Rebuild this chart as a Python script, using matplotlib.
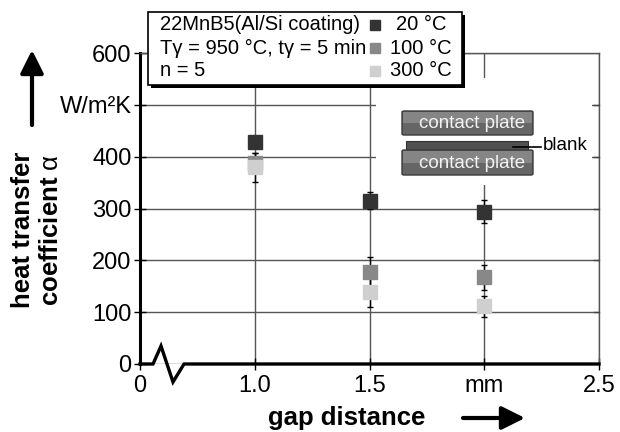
import matplotlib
matplotlib.use("Agg")
import matplotlib.pyplot as plt
from matplotlib.patches import Rectangle, FancyBboxPatch
from matplotlib.lines import Line2D
from matplotlib.transforms import blended_transform_factory

plt.rcParams['font.family'] = ['Liberation Sans', 'DejaVu Sans']
plt.rcParams['mathtext.fontset'] = 'custom'
plt.rcParams['mathtext.rm'] = 'Liberation Sans'
plt.rcParams['mathtext.it'] = 'Liberation Sans:italic'

# ---- data ----
gap = [1.0, 1.5, 2.0]
series_labels = ["20 °C", "100 °C", "300 °C"]
alpha_20 = [428, 315, 294]
err_20 = [12, 16, 22]
alpha_100 = [388, 177, 167]
err_100 = [20, 29, 24]
alpha_300 = [380, 138, 111]
err_300 = [28, 28, 20]
colors = ["#333333", "#888888", "#cfcfcf"]

xticks = [0.5, 1.0, 1.5, 2.0, 2.5]
xticklabels = ["0", "1.0", "1.5", "mm", "2.5"]
yticks = [0, 100, 200, 300, 400, 500, 600]
yticklabels = ["0", "100", "200", "300", "400", "W/m²K", "600"]

W, H = 620, 432
fig = plt.figure(figsize=(W / 100, H / 100), dpi=100)
ax = fig.add_axes([140 / W, 1 - 364 / H, (599 - 140) / W, (364 - 53) / H])

def fx(px):
    return px / W

def fy(py):
    return 1 - py / H

ax.set_xlim(0.5, 2.5)
ax.set_ylim(0, 600)
ax.set_xticks(xticks)
ax.set_xticklabels(xticklabels)
ax.set_yticks(yticks)
ax.set_yticklabels(yticklabels)
ax.tick_params(axis='both', labelsize=17, direction='inout', length=8, width=1.0, color='black')
ax.tick_params(axis='y', pad=2)
ax.tick_params(axis='x', pad=4)
ax.set_axisbelow(True)
ax.grid(True, color='#555555', linewidth=1.0)

for s in ['top', 'right']:
    ax.spines[s].set_linewidth(1.0)
    ax.spines[s].set_color('#555555')
ax.spines['left'].set_linewidth(2.2)
ax.spines['bottom'].set_visible(False)

# small inward ticks on the right border
rt = blended_transform_factory(ax.transAxes, ax.transData)
for yv in yticks[1:-1]:
    ax.plot([0.99, 1.0], [yv, yv], transform=rt, color='#444444', lw=1.0, zorder=2.6,
            clip_on=False)

# broken bottom axis with zigzag
bx = [0, (153 - 140) / 459, (161 - 140) / 459, (173 - 140) / 459, (184 - 140) / 459, 1.0]
by = [0, 0, (364 - 346) / 311, (364 - 382) / 311, 0, 0]
ax.plot(bx, by, transform=ax.transAxes, color='black', lw=2.4, clip_on=False,
        zorder=4, solid_joinstyle='miter')

# white area behind the inset sketch
ax.add_patch(Rectangle((1.53, 345), 0.94, 207, facecolor='white', edgecolor='none', zorder=1))

# data
for vals, errs, col in [(alpha_100, err_100, colors[1]), (alpha_300, err_300, colors[2]),
                        (alpha_20, err_20, colors[0])]:
    ax.errorbar(gap, vals, yerr=errs, fmt='none', ecolor='black', elinewidth=1.0,
                capsize=2.5, capthick=1.0, zorder=3)
    ax.plot(gap, vals, linestyle='none', marker='s', markersize=9.5, color=col,
            markeredgecolor=col, zorder=4)

# legend box (figure level)
fig.add_artist(Rectangle((fx(151), fy(88)), fx(462) - fx(148), fy(12) - fy(85),
                         transform=fig.transFigure, facecolor='black', edgecolor='none', zorder=9))
fig.add_artist(Rectangle((fx(148), fy(85)), fx(462) - fx(148), fy(12) - fy(85),
                         transform=fig.transFigure, facecolor='white', edgecolor='black',
                         linewidth=1.2, zorder=10))
for txt, py in [("22MnB5(Al/Si coating)", 25), ("Tγ = 950 °C, tγ = 5 min", 48), ("n = 5", 71)]:
    fig.text(fx(160), fy(py), txt, fontsize=14.5, ha='left', va='center', zorder=11)
for lab, col, py in zip(series_labels, colors, [25, 48, 71]):
    fig.add_artist(Line2D([fx(375)], [fy(py)], transform=fig.transFigure, marker='s',
                          markersize=6.5, color=col, linestyle='none', zorder=11))
    fig.text(fx(421), fy(py), lab, fontsize=14.5, ha='center', va='center', zorder=11)

# inset sketch: contact plates and blank
def plate(x0, x1, y0, y1):
    fig.add_artist(FancyBboxPatch((fx(x0), fy(y1)), fx(x1) - fx(x0), fy(y0) - fy(y1),
                                  boxstyle="round,pad=0,rounding_size=0.003",
                                  transform=fig.transFigure, facecolor='#666666',
                                  edgecolor='#3a3a3a', linewidth=1.0, zorder=6))
    fig.add_artist(Rectangle((fx(x0 + 1), fy((y0 + y1) / 2)), fx(x1 - 2) - fx(x0), fy(y0 + 1) - fy((y0 + y1) / 2),
                             transform=fig.transFigure, facecolor='#858585', edgecolor='none',
                             zorder=6.5))
    fig.text(fx(472), fy((y0 + y1) / 2 + 1), "contact plate", fontsize=13.5, color='#f2f2f2',
             ha='center', va='center', zorder=7)

plate(402, 533, 111, 135)
fig.add_artist(Rectangle((fx(406), fy(150)), fx(528) - fx(406), fy(141) - fy(150),
                         transform=fig.transFigure, facecolor='#505050', edgecolor='#333333',
                         linewidth=0.8, zorder=6))
plate(402, 533, 150, 175)
fig.add_artist(Line2D([fx(513), fx(541)], [fy(147), fy(147)], transform=fig.transFigure,
                      color='black', lw=1.2, zorder=8))
fig.text(fx(543), fy(146), "blank", fontsize=13.5, ha='left', va='center', zorder=8)

# axis labels
fig.text(fx(347), fy(418), "gap distance", fontsize=18.5, fontweight='bold',
         ha='center', va='center')
fig.text(fx(37), fy(230), "heat transfer\ncoefficient $\\mathrm{\\alpha}$", fontsize=18.5,
         fontweight='bold', rotation=90, ha='center', va='center', linespacing=1.25,
         multialignment='center')

# arrows
ax.annotate("", xy=(525, H - 418), xytext=(463, H - 418), xycoords='figure pixels',
            textcoords='figure pixels',
            arrowprops=dict(arrowstyle='-|>,head_length=1.0,head_width=0.5', lw=3,
                            color='black', shrinkA=0, shrinkB=0, mutation_scale=14))
ax.annotate("", xy=(32, H - 50), xytext=(32, H - 125), xycoords='figure pixels',
            textcoords='figure pixels',
            arrowprops=dict(arrowstyle='-|>,head_length=1.0,head_width=0.5', lw=3,
                            color='black', shrinkA=0, shrinkB=0, mutation_scale=14))

fig.savefig("out.png", dpi=100)
